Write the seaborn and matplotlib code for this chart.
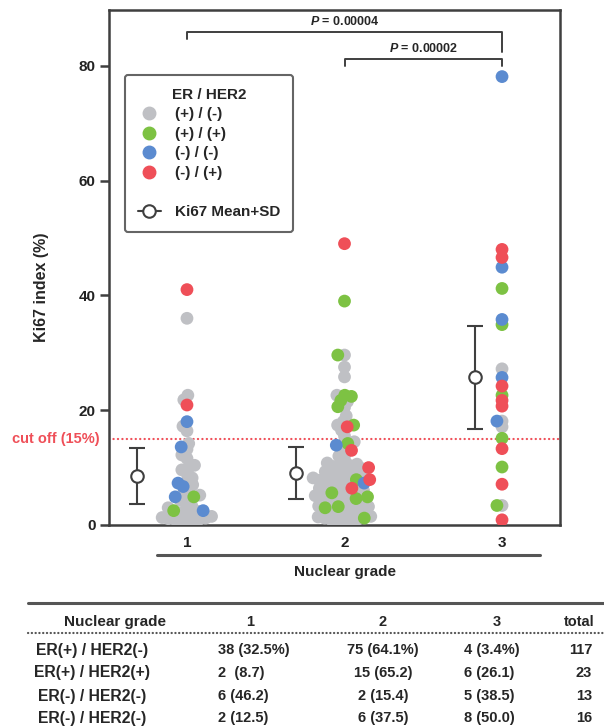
import matplotlib

matplotlib.use("Agg")
import matplotlib.pyplot as plt
from matplotlib.lines import Line2D
import numpy as np
import pandas as pd
import seaborn as sns

# categories
grades = ["1", "2", "3"]
groups = ["(+) / (-)", "(+) / (+)", "(-) / (-)", "(-) / (+)"]
group_colors = ["#bfc0c4", "#7dc243", "#5b8bd0", "#ef4f58"]

# Ki67 values, per grade and ER / HER2 group
g1_pos_neg = [36, 22.6, 21.8, 17.2, 16.4, 14.2, 13.2, 12.2, 11.6,
              10.4, 10.0, 9.6, 9.0, 8.2, 7.6, 7.0, 6.2, 5.6, 5.2, 4.8, 4.3, 3.8, 3.4,
              3.0, 2.7, 2.4, 2.1, 1.9, 1.7, 1.5, 1.3, 1.2, 1.1, 1.0, 0.9, 0.8, 0.7, 1.0]
g1_pos_pos = [4.9, 2.5]
g1_neg_neg = [18.0, 13.6, 7.3, 6.7, 4.9, 2.5]
g1_neg_pos = [41.0, 20.9]

g2_pos_neg = [29.6, 27.5, 25.8, 22.6, 21.5, 20.5, 19, 18, 17.4, 16.5, 15.5, 14.5, 13.5,
              12.5, 12, 11.4,
              10.8, 10.6, 10.4, 10.2, 10.0, 9.8, 9.6, 9.5, 9.3, 9.1,
              8.9, 8.7, 8.6, 8.4, 8.2, 8.0, 7.8, 7.7, 7.5, 7.3,
              7.1, 6.9, 6.8, 6.6, 6.4, 6.2, 6.0, 5.9, 5.7, 5.5,
              5.3, 5.1, 5.0, 4.8, 4.6, 4.4, 4.2, 4.1, 3.9, 3.7,
              3.5, 3.3, 3.2, 3.0, 2.8, 2.6, 2.4, 2.3, 2.1, 1.9,
              1.7, 1.5, 1.4, 1.2, 1.0, 0.9, 0.8, 0.7, 0.6]
g2_pos_pos = [39.0, 29.6, 22.6, 22.4, 21.7, 20.6, 17.4, 14.2, 7.9, 5.6, 4.9, 4.6, 3.2, 3.0, 1.2]
g2_neg_neg = [13.9, 7.3]
g2_neg_pos = [49.0, 17.1, 13.0, 10.0, 7.9, 6.4]

g3_pos_neg = [27.2, 18.1, 17.1, 3.4]
g3_pos_pos = [41.2, 34.9, 22.6, 15.1, 10.1, 3.4]
g3_neg_neg = [78.1, 44.9, 35.8, 25.7, 18.1]
g3_neg_pos = [48.0, 46.6, 24.2, 21.7, 20.7, 13.3, 7.1, 0.9]

ki67_mean = [8.5, 9.0, 25.7]
ki67_sd = [4.9, 4.5, 9.0]

p_pairs = [(0, 2), (1, 2)]
p_values = ["0.00004", "0.00002"]
cutoff = 15

table_header = ["Nuclear grade", "1", "2", "3", "total"]
table_rows = ["ER(+) / HER2(-)", "ER(+) / HER2(+)", "ER(-) / HER2(-)", "ER(-) / HER2(-)"]
table_g1 = ["38 (32.5%)", "2  (8.7)", "6 (46.2)", "2 (12.5)"]
table_g2 = ["75 (64.1%)", "15 (65.2)", "2 (15.4)", "6 (37.5)"]
table_g3 = ["4 (3.4%)", "6 (26.1)", "5 (38.5)", "8 (50.0)"]
table_total = ["117", "23", "13", "16"]

per_grade = {
    "1": [g1_pos_neg, g1_pos_pos, g1_neg_neg, g1_neg_pos],
    "2": [g2_pos_neg, g2_pos_pos, g2_neg_neg, g2_neg_pos],
    "3": [g3_pos_neg, g3_pos_pos, g3_neg_neg, g3_neg_pos],
}
records = []
for grade, lists in per_grade.items():
    for group, values in zip(groups, lists):
        records += [{"grade": grade, "group": group, "ki67": v} for v in values]
df = pd.DataFrame(records)

sns.set_theme(style="white")
plt.rcParams["font.family"] = ["Liberation Sans", "DejaVu Sans"]
plt.rcParams["font.weight"] = "bold"
plt.rcParams["axes.labelweight"] = "bold"
plt.rcParams["mathtext.fontset"] = "custom"
plt.rcParams["mathtext.it"] = "Liberation Sans:italic:bold"
plt.rcParams["mathtext.rm"] = "Liberation Sans:bold"

dark = "#3f3f3f"
red = "#ef4f58"
W, H = 604, 727

fig = plt.figure(figsize=(W / 100, H / 100), dpi=100)
ax = fig.add_axes([109 / W, 1 - 525 / H, 451 / W, 515 / H])

# lay the swarm out with small dots, then show bigger overlapping dots (prism style)
sns.swarmplot(data=df, x="grade", y="ki67", hue="group", order=grades, hue_order=groups,
              palette=group_colors, size=5, linewidth=0, legend=False, ax=ax, zorder=3)
ax.set_xlim(-0.495, 2.368)
ax.set_ylim(0, 89.7)
layout_size = [4.3, 4.6, 3.5]
swarms = [c for c in ax.collections if "draw" in c.__dict__]
for coll, s in zip(swarms, layout_size):
    coll.set_sizes([s ** 2])
fig.canvas.draw()
for coll in swarms:
    del coll.draw
    coll.set_sizes([9.2 ** 2])

# mean +/- SD markers, shifted left of each swarm
offsets = np.array([-0.32, -0.31, -0.17])
ax.errorbar(np.arange(len(grades)) + offsets, ki67_mean, yerr=ki67_sd, fmt="o", ms=9,
            mfc="white", mec=dark, mew=1.5, ecolor=dark, elinewidth=1.5,
            capsize=6, capthick=1.5, zorder=4)

ax.axhline(cutoff, color=red, lw=1.6, ls=(0, (0.1, 1.9)), dash_capstyle="round", zorder=2)
ax.text(-0.02, cutoff, "cut off (15%)", transform=ax.get_yaxis_transform(), ha="right",
        va="center", color=red, fontsize=10.5, fontweight="bold")

# significance brackets
bracket_top = [85.9, 81.2]
leg_left = [1.2, 1.2]
leg_right = [3.6, 1.2]
for (a, b), p, top, ll, lr in zip(p_pairs, p_values, bracket_top, leg_left, leg_right):
    ax.plot([a, a, b, b], [top - ll, top, top, top - lr], color=dark, lw=1.4, clip_on=False)
    ax.text((a + b) / 2, top + 0.7, f"$P$ = {p}", ha="center", va="bottom", fontsize=9)

ax.set_yticks([0, 20, 40, 60, 80])
ax.set_xlabel("")
ax.set_ylabel("Ki67 index (%)", fontsize=11.5, fontweight="bold")
ax.yaxis.set_label_coords(-0.133, 0.462)
for spine in ax.spines.values():
    spine.set_color(dark)
    spine.set_linewidth(1.8)
ax.tick_params(axis="y", length=6.5, width=1.8, color=dark, labelsize=11, pad=3, left=True)
ax.tick_params(axis="x", length=0, labelsize=11, pad=8)
for lab in ax.get_xticklabels() + ax.get_yticklabels():
    lab.set_fontweight("bold")
    lab.set_color("#222222")

handles = [Line2D([], [], ls="none", marker="o", ms=9, mfc=c, mec=c) for c in group_colors]
handles += [Line2D([], [], color="none"),
            Line2D([], [], color=dark, lw=1.5, marker="o", ms=9, mfc="white", mec=dark, mew=1.5)]
labels = groups + [" ", "Ki67 Mean+SD"]
leg = ax.legend(handles, labels, title="ER / HER2", loc="upper left",
                bbox_to_anchor=(0.0355, 0.874), borderaxespad=0, frameon=True, fancybox=True,
                fontsize=11, title_fontsize=11, handlelength=1.5, handletextpad=0.9,
                labelspacing=0.36, borderpad=0.85, numpoints=1)
leg.get_frame().set_edgecolor(dark)
leg.get_frame().set_linewidth(1.5)
leg.get_title().set_fontweight("bold")
for t in leg.get_texts():
    t.set_fontweight("bold")

# category axis line and title below the plot
fig.add_artist(Line2D([157 / W, 540 / W], [1 - 555 / H] * 2, color="#555555", lw=2.2))
fig.text(345 / W, 1 - 572 / H, "Nuclear grade", ha="center", va="center", fontsize=11,
         fontweight="bold")

# summary table
fig.add_artist(Line2D([28 / W, 1.0], [1 - 603 / H] * 2, color="#555555", lw=2.2))
fig.add_artist(Line2D([28 / W, 1.0], [1 - 633 / H] * 2, color="#555555", lw=1.6,
                      ls=(0, (0.1, 1.6)), dash_capstyle="round"))
head_y = 1 - 622 / H
fig.text(115 / W, head_y, table_header[0], ha="center", va="center", fontsize=11)
fig.text(250 / W, head_y, table_header[1], ha="center", va="center", fontsize=10.5)
fig.text(383 / W, head_y, table_header[2], ha="center", va="center", fontsize=10.5)
fig.text(497 / W, head_y, table_header[3], ha="center", va="center", fontsize=10.5)
fig.text(594 / W, head_y, table_header[4], ha="right", va="center", fontsize=10.5)
row_y = [650, 673, 696, 718]
for i, y in enumerate(row_y):
    yy = 1 - y / H
    fig.text(92 / W, yy, table_rows[i], ha="center", va="center", fontsize=11.3)
    fig.text(218 / W, yy, table_g1[i], ha="left", va="center", fontsize=10.5)
    fig.text(383 / W, yy, table_g2[i], ha="center", va="center", fontsize=10.5)
    fig.text(464 / W, yy, table_g3[i], ha="left", va="center", fontsize=10.5)
    fig.text(592 / W, yy, table_total[i], ha="right", va="center", fontsize=10.5)

fig.savefig("out.png", dpi=100)
